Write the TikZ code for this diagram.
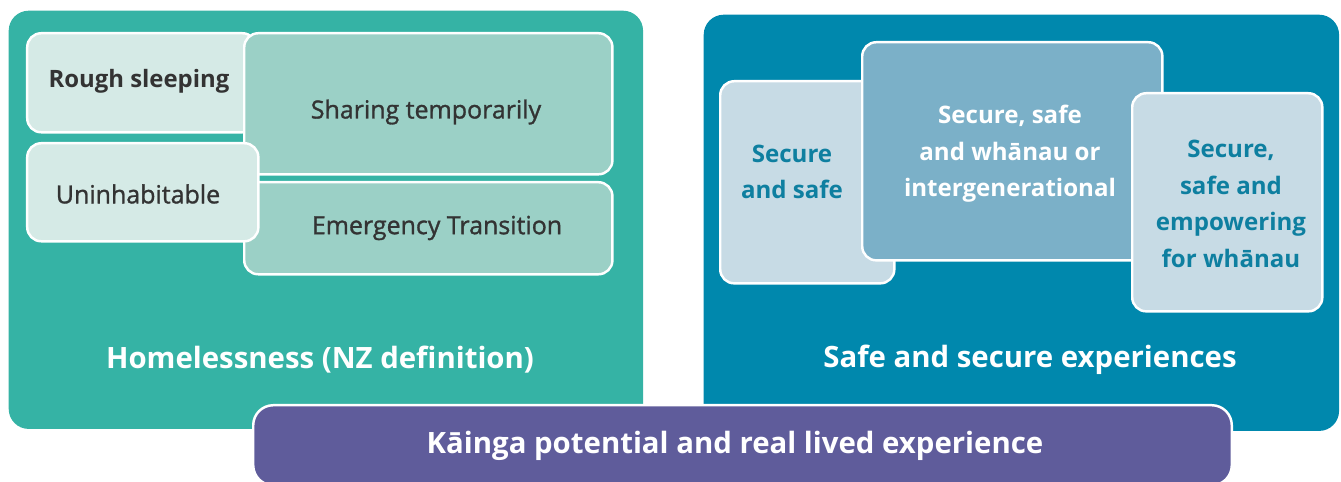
\documentclass[tikz,border=0pt]{standalone}
\usepackage{fontspec}
\setmainfont{Open Sans}
\newfontfamily\semifont[FakeBold=1.2]{Open Sans}
\usetikzlibrary{positioning}

\tikzset{
  panel/.style={rounded corners=2mm, inner sep=0pt, anchor=north west},
  tile/.style={draw=white, line width=0.7pt, rounded corners=1.4mm, inner sep=0pt, anchor=north west, align=center},
  head/.style={text=white, font=\fontsize{8.35}{10}\selectfont\bfseries},
  darktxt/.style={text=ctext, align=center, font=\fontsize{7.1}{9}\selectfont\semifont},
  bluetxt/.style={text=cbluetxt, align=center, font=\fontsize{6.85}{10.4}\selectfont\bfseries},
  whitetxt/.style={text=white, align=center, font=\fontsize{6.85}{10.4}\selectfont\bfseries}
}

\begin{document}
\begin{tikzpicture}[x=0.01cm,y=-0.01cm]
%
\useasboundingbox (0,0) rectangle (1341,482);
%
\definecolor{cteal}{RGB}{53,179,165}
\definecolor{clight}{RGB}{213,234,230}
\definecolor{cmid}{RGB}{155,208,198}
\definecolor{ctext}{RGB}{51,51,51}
\definecolor{cblue}{RGB}{0,136,173}
\definecolor{cpale}{RGB}{199,219,229}
\definecolor{csteel}{RGB}{123,176,200}
\definecolor{cbluetxt}{RGB}{14,127,160}
\definecolor{cpurple}{RGB}{95,92,155}
%
% the two big panels
\node[panel, fill=cteal, minimum width=6.34cm, minimum height=4.18cm] (home) at (8,10) {};
\node[panel, fill=cblue, minimum width=6.35cm, minimum height=4.16cm] (safe) at (703,14) {};
%
% homelessness tiles
\node[tile, fill=clight, minimum width=2.29cm, minimum height=0.99cm] (rough) at (26,32) {};
\node[darktxt, font=\fontsize{6.8}{9}\selectfont\bfseries] (roughtxt) at (139,81) {Rough sleeping};
\node[tile, fill=cmid, minimum width=3.68cm, minimum height=1.41cm] (share) at (243,32) {};
\node[darktxt] (sharetxt) at (426,112) {Sharing temporarily};
\node[tile, fill=cmid, minimum width=3.68cm, minimum height=0.92cm] (emerg) at (243,181) {};
\node[darktxt] (emergtxt) at (437,228) {Emergency Transition};
\node[tile, fill=clight, minimum width=2.31cm, minimum height=0.98cm] (uninh) at (26,142) {};
\node[darktxt] (uninhtxt) at (138,194) {Uninhabitable};
%
\node[head] (hometxt) at (320,360) {Homelessness (NZ definition)};
%
% safe and secure tiles
\node[tile, fill=cpale, minimum width=1.74cm, minimum height=2.02cm] (sas) at (719,80) {};
\node[bluetxt] (sastxt) at (792,172) {Secure\\and safe};
\node[tile, fill=csteel, minimum width=3.00cm, minimum height=2.18cm] (swi) at (861,41) {};
\node[whitetxt] (switxt) at (1010,154) {Secure, safe\\and whānau or\\intergenerational};
\node[tile, fill=cpale, minimum width=1.90cm, minimum height=2.18cm] (sse) at (1131,92) {};
\node[bluetxt] (ssetxt) at (1231,204) {Secure,\\safe and\\empowering\\for whānau};
%
\node[head] (safetxt) at (1030,360) {Safe and secure experiences};
%
% kainga bar
\node[tile, fill=cpurple, rounded corners=2mm, minimum width=9.78cm, minimum height=0.80cm] (kainga) at (252,404) {};
\node[head] (kaingatxt) at (735,446) {Kāinga potential and real lived experience};
%
\end{tikzpicture}
\end{document}
